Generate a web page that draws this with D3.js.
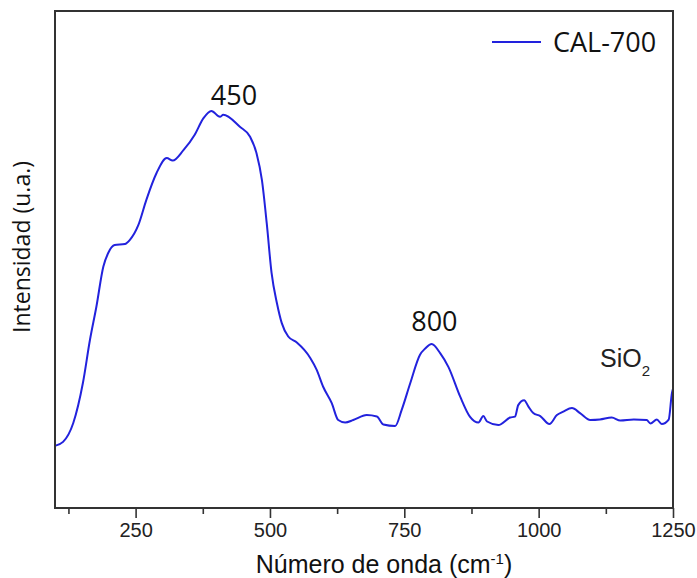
<!DOCTYPE html>
<html>
<head>
<meta charset="utf-8">
<script src="https://cdn.jsdelivr.net/npm/d3@7"></script>
<style>
  html, body { margin: 0; padding: 0; background: #fff; }
  svg { display: block; }
</style>
</head>
<body>
<svg id="chart" width="697" height="578"></svg>
<script>
// ---- data ----
const wavenumber = [100,115,134,152,165,177,190,199,211,230,239,255,270,289,308,319,339,360,376,391,407,413,444,463,475,485,494,503,513,522,534,550,575,587,599,615,627,640,655,680,699,711,733,745,761,779,789,801,817,832,854,872,888,897,904,925,947,956,962,973,981,990,1003,1020,1034,1046,1062,1077,1096,1114,1136,1152,1177,1201,1208,1220,1229,1242,1248,1250];
const intensity  = [12.5,13.3,17.1,25.2,33.8,40.5,48.6,51.3,52.9,53.1,53.9,56.9,62.0,67.4,70.4,69.9,72.0,75.1,78.4,79.9,78.7,79.1,76.7,74.7,71.4,66.0,57.3,47.3,41.2,37.2,34.5,33.3,30.2,27.8,24.4,21.1,17.7,17.2,17.7,18.7,18.4,16.8,16.5,19.7,25.1,30.8,32.1,33.0,31.1,28.4,22.4,18.4,17.2,18.5,17.4,16.7,18.2,18.4,20.7,21.7,20.4,19.1,18.5,16.9,18.7,19.4,20.1,19.1,17.7,17.8,18.2,17.6,17.8,17.7,17.0,17.8,16.9,17.8,23.1,24.0];
const seriesName = "CAL-700";
const xTicks = [250, 500, 750, 1000, 1250];
const xMinorTicks = [125, 375, 625, 875, 1125];
const peakLabels = [{text: "450", x: 433, y: 81}, {text: "800", x: 806, y: 35.6}];

// ---- layout ----
const svg = d3.select("#chart");
const L = 55, R = 673, T = 11, B = 508;
const x = d3.scaleLinear().domain([100, 1250]).range([L, R]);
const y = d3.scaleLinear().domain([0, 100]).range([B, T]);

// curve
const line = d3.line().x((d, i) => x(wavenumber[i])).y((d, i) => y(intensity[i])).curve(d3.curveMonotoneX);
svg.append("path")
  .datum(intensity)
  .attr("d", line)
  .attr("fill", "none")
  .attr("stroke", "#2222dd")
  .attr("stroke-width", 2)
  .attr("stroke-linejoin", "round");

// bottom axis with major ticks
const xAxis = d3.axisBottom(x).tickValues(xTicks).tickFormat(d3.format("d"))
  .tickSize(10).tickSizeOuter(0).tickPadding(5);
const gx = svg.append("g").attr("transform", `translate(0,${B})`).call(xAxis);
gx.select(".domain").remove();
gx.selectAll(".tick line").attr("stroke", "#333").attr("stroke-width", 1.6);
gx.selectAll(".tick text")
  .attr("font-family", "Liberation Sans, Arial, sans-serif")
  .attr("font-size", 20)
  .attr("fill", "#222");

// minor ticks
const xMinor = d3.axisBottom(x).tickValues(xMinorTicks).tickSize(6).tickFormat("");
const gm = svg.append("g").attr("transform", `translate(0,${B})`).call(xMinor);
gm.select(".domain").remove();
gm.selectAll(".tick line").attr("stroke", "#333").attr("stroke-width", 1.6);

// frame
svg.append("rect")
  .attr("x", L).attr("y", T).attr("width", R - L).attr("height", B - T)
  .attr("fill", "none").attr("stroke", "#333").attr("stroke-width", 2);

// axis titles
const xt = svg.append("text")
  .attr("x", 384).attr("y", 573)
  .attr("text-anchor", "middle")
  .attr("font-family", "Liberation Sans, Arial, sans-serif")
  .attr("font-size", 25).attr("fill", "#111");
xt.append("tspan").text("Número de onda (cm");
xt.append("tspan").attr("dy", -9).attr("font-size", 15).text("-1");
xt.append("tspan").attr("dy", 9).text(")");

svg.append("text")
  .attr("transform", "translate(30,247) rotate(-90)")
  .attr("text-anchor", "middle")
  .attr("font-family", "Open Sans, sans-serif")
  .attr("font-size", 23).attr("fill", "#111")
  .text("Intensidad (u.a.)");

// peak labels
svg.selectAll("text.peak").data(peakLabels).enter().append("text")
  .attr("class", "peak")
  .attr("x", d => x(d.x)).attr("y", d => y(d.y))
  .attr("text-anchor", "middle")
  .attr("font-family", "Open Sans, sans-serif")
  .attr("font-size", 27).attr("fill", "#111")
  .text(d => d.text);

// SiO2 label
const si = svg.append("text")
  .attr("x", 600).attr("y", 367)
  .attr("font-family", "Liberation Sans, Arial, sans-serif")
  .attr("font-size", 25).attr("fill", "#222");
si.append("tspan").text("SiO");
si.append("tspan").attr("dy", 9).attr("font-size", 15).text("2");

// legend
svg.append("line")
  .attr("x1", 492).attr("x2", 541).attr("y1", 42).attr("y2", 42)
  .attr("stroke", "#2222dd").attr("stroke-width", 2.2);
svg.append("text")
  .attr("x", 553).attr("y", 52)
  .attr("font-family", "Open Sans, sans-serif")
  .attr("font-size", 27).attr("fill", "#111")
  .text(seriesName);
</script>
</body>
</html>
